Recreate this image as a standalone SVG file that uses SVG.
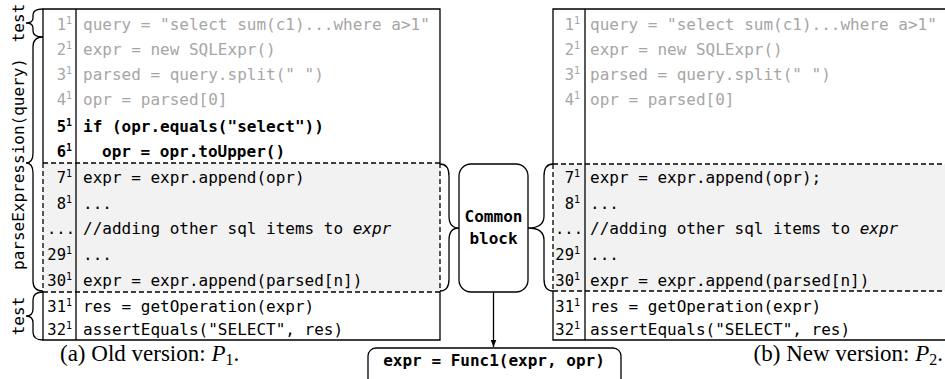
<svg xmlns="http://www.w3.org/2000/svg" width="945" height="379" viewBox="0 0 945 379">
  <style>
    .code { font-family: "DejaVu Sans Mono", "Liberation Mono", monospace; font-size: 16px; fill: #000; }
    .num { font-family: "DejaVu Sans Mono", "Liberation Mono", monospace; font-size: 15.5px; fill: #000; text-anchor: end; }
    .sup { font-size: 10px; }
    .dim { fill: #a6a6a6; }
    .bold { font-weight: bold; }
    .label { font-family: "DejaVu Sans Mono", "Liberation Mono", monospace; font-size: 16px; fill: #000; text-anchor: middle; }
    .cap { font-family: "Liberation Serif", "Times New Roman", serif; font-size: 23px; fill: #000; }
    .line { stroke: #000; stroke-width: 1.3; fill: none; }
    .dash { stroke: #000; stroke-width: 1.3; fill: none; stroke-dasharray: 5 3; }
    .shade { fill: #f2f2f2; }
    .brace { stroke: #000; stroke-width: 1.3; fill: none; }
  </style>
  <defs>
    <marker id="arrow" viewBox="0 0 10 10" refX="10" refY="5" markerWidth="7" markerHeight="7" orient="auto" markerUnits="userSpaceOnUse">
      <path d="M0 1 L10 5 L0 9 Z" fill="#000"/>
    </marker>
  </defs>
  <rect width="945" height="379" fill="#fff"/>

  <!-- Old version listing -->
  <g id="old-version">
    <rect class="shade" x="43" y="163" width="397" height="129"/>
    <path class="line" d="M43 163 V9 H440 V163"/>
    <path class="line" d="M43 292 V340 H440 V292"/>
    <path class="dash" d="M43 163 V292 M440 163 V292 M43 163 H440 M43 292 H440"/>
    <path class="line" d="M76 9 V340"/>

    <text class="num dim" x="72" y="30">1<tspan class="sup" dy="-6">1</tspan></text>
    <text class="num dim" x="72" y="55">2<tspan class="sup" dy="-6">1</tspan></text>
    <text class="num dim" x="72" y="80">3<tspan class="sup" dy="-6">1</tspan></text>
    <text class="num dim" x="72" y="105">4<tspan class="sup" dy="-6">1</tspan></text>
    <text class="num bold" x="72" y="132">5<tspan class="sup" dy="-6">1</tspan></text>
    <text class="num bold" x="72" y="157">6<tspan class="sup" dy="-6">1</tspan></text>
    <text class="num" x="72" y="183">7<tspan class="sup" dy="-6">1</tspan></text>
    <text class="num" x="72" y="209">8<tspan class="sup" dy="-6">1</tspan></text>
    <text class="num" x="75" y="234">...</text>
    <text class="num" x="72" y="260">29<tspan class="sup" dy="-6">1</tspan></text>
    <text class="num" x="72" y="286">30<tspan class="sup" dy="-6">1</tspan></text>
    <text class="num" x="72" y="312">31<tspan class="sup" dy="-6">1</tspan></text>
    <text class="num" x="72" y="335">32<tspan class="sup" dy="-6">1</tspan></text>

    <text class="code dim" x="83" y="30">query = "select sum(c1)...where a&gt;1"</text>
    <text class="code dim" x="83" y="55">expr = new SQLExpr()</text>
    <text class="code dim" x="83" y="80">parsed = query.split(" ")</text>
    <text class="code dim" x="83" y="105">opr = parsed[0]</text>
    <text class="code bold" x="83" y="132">if (opr.equals("select"))</text>
    <text class="code bold" x="102" y="157">opr = opr.toUpper()</text>
    <text class="code" x="83" y="183">expr = expr.append(opr)</text>
    <text class="code" x="83" y="209">...</text>
    <text class="code" x="83" y="234">//adding other sql items to <tspan font-style="italic">expr</tspan></text>
    <text class="code" x="83" y="260">...</text>
    <text class="code" x="83" y="286">expr = expr.append(parsed[n])</text>
    <text class="code" x="83" y="312">res = getOperation(expr)</text>
    <text class="code" x="83" y="335">assertEquals("SELECT", res)</text>
  </g>

  <!-- New version listing -->
  <g id="new-version">
    <rect class="shade" x="553" y="164" width="395" height="127"/>
    <path class="line" d="M553 164 V9 H948"/>
    <path class="line" d="M553 291 V340 H948"/>
    <path class="dash" d="M553 164 V291 M553 164 H948 M553 291 H948"/>
    <path class="line" d="M585 9 V340"/>

    <text class="num dim" x="580" y="30">1<tspan class="sup" dy="-6">1</tspan></text>
    <text class="num dim" x="580" y="55">2<tspan class="sup" dy="-6">1</tspan></text>
    <text class="num dim" x="580" y="80">3<tspan class="sup" dy="-6">1</tspan></text>
    <text class="num dim" x="580" y="105">4<tspan class="sup" dy="-6">1</tspan></text>
    <text class="num" x="580" y="183">7<tspan class="sup" dy="-6">1</tspan></text>
    <text class="num" x="580" y="209">8<tspan class="sup" dy="-6">1</tspan></text>
    <text class="num" x="583" y="234">...</text>
    <text class="num" x="580" y="260">29<tspan class="sup" dy="-6">1</tspan></text>
    <text class="num" x="580" y="286">30<tspan class="sup" dy="-6">1</tspan></text>
    <text class="num" x="580" y="312">31<tspan class="sup" dy="-6">1</tspan></text>
    <text class="num" x="580" y="335">32<tspan class="sup" dy="-6">1</tspan></text>

    <text class="code dim" x="590" y="30">query = "select sum(c1)...where a&gt;1"</text>
    <text class="code dim" x="590" y="55">expr = new SQLExpr()</text>
    <text class="code dim" x="590" y="80">parsed = query.split(" ")</text>
    <text class="code dim" x="590" y="105">opr = parsed[0]</text>
    <text class="code" x="590" y="183">expr = expr.append(opr);</text>
    <text class="code" x="590" y="209">...</text>
    <text class="code" x="590" y="234">//adding other sql items to <tspan font-style="italic">expr</tspan></text>
    <text class="code" x="590" y="260">...</text>
    <text class="code" x="590" y="286">expr = expr.append(parsed[n])</text>
    <text class="code" x="590" y="312">res = getOperation(expr)</text>
    <text class="code" x="590" y="335">assertEquals("SELECT", res)</text>
  </g>

  <!-- Region labels on the left margin -->
  <g id="labels">
    <text class="label" transform="translate(24,23) rotate(-90)">test</text>
    <text class="label" transform="translate(24,164) rotate(-90)">parseExpression(query)</text>
    <text class="label" transform="translate(24,316) rotate(-90)">test</text>
  </g>

  <!-- Shared block -->
  <g id="common-block">
    <rect x="459" y="164" width="69" height="128" rx="12" fill="#fff" stroke="#000" stroke-width="1.3"/>
    <text class="label bold" x="493.5" y="222">Common</text>
    <text class="label bold" x="493.5" y="244">block</text>
  </g>

  <g id="func1">
    <rect x="368" y="348" width="253" height="40" rx="8" fill="#fff" stroke="#000" stroke-width="1.3"/>
    <text class="label bold" x="494" y="366">expr = Func1(expr, opr)</text>
  </g>

  <!-- Braces and arrow -->
  <g id="connectors">
    <path class="brace" d="M43 9 Q33 9 33 15 L33 18 Q33 23 26 23 Q33 23 33 28 L33 31 Q33 37 43 37"/>
    <path class="brace" d="M43 37 Q33 37 33 47 L33 153 Q33 163 26 163 Q33 163 33 173 L33 281 Q33 291 43 291"/>
    <path class="brace" d="M43 292 Q33 292 33 300 L33 309 Q33 316 26 316 Q33 316 33 323 L33 332 Q33 340 43 340"/>
    <path class="brace" d="M440 164 Q449 164 449 176 L449 216 Q449 228 459 228 Q449 228 449 240 L449 279 Q449 291 440 291"/>
    <path class="brace" d="M553 164 Q544 164 544 176 L544 216 Q544 228 528 228 Q544 228 544 240 L544 279 Q544 291 553 291"/>
    <path class="line" d="M493.5 292 V347" marker-end="url(#arrow)"/>
  </g>

  <!-- Captions -->
  <g id="captions">
    <text class="cap" x="60" y="361">(a) Old version: <tspan font-style="italic">P</tspan><tspan font-size="16" dy="4">1</tspan><tspan dy="-4">.</tspan></text>
    <text class="cap" x="943" y="361" text-anchor="end">(b) New version: <tspan font-style="italic">P</tspan><tspan font-size="16" dy="4">2</tspan><tspan dy="-4">.</tspan></text>
  </g>
</svg>
